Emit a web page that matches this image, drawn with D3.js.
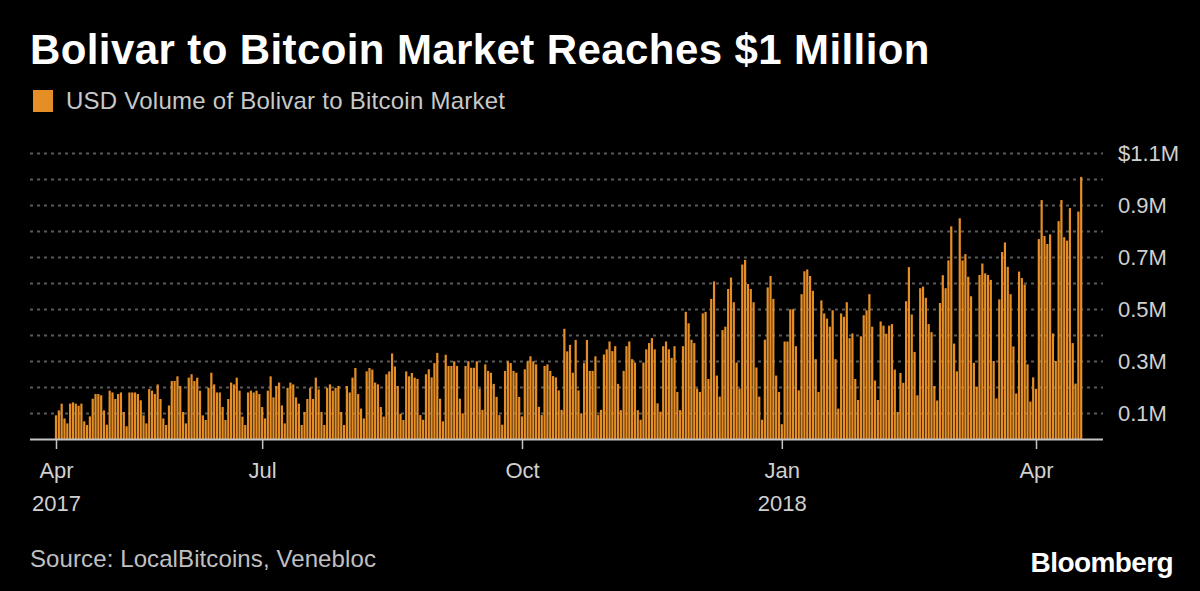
<!DOCTYPE html>
<html><head><meta charset="utf-8">
<script src="https://cdn.jsdelivr.net/npm/d3@7"></script>
<style>
html,body{margin:0;padding:0;background:#000;}
svg{display:block;font-family:"Liberation Sans",Arial,sans-serif;}
</style>
</head><body>
<svg id="chart" width="1200" height="591"></svg>
<script>
// ---- DATA ----
const startDate = new Date(2017, 3, 19);
// daily USD volume, millions
const volumes = [
0.091,0.110,0.136,0.079,0.060,0.136,0.141,0.136,0.128,0.136,0.068,0.054,0.087,0.155,0.173,0.173,0.168,0.110,0.055,0.186,0.179,0.154,0.173,0.179,0.104,0.049,0.179,0.179,0.179,
0.173,0.149,0.091,0.060,0.192,0.186,0.173,0.210,0.154,0.079,0.054,0.129,0.223,0.223,0.241,0.204,0.104,0.060,0.236,0.249,0.223,0.236,0.186,0.091,0.073,0.197,0.255,0.210,0.179,0.179,0.123,0.073,0.154,
0.217,0.210,0.236,0.186,0.086,0.054,0.179,0.186,0.179,0.186,0.173,0.123,0.079,0.186,0.241,0.160,0.204,0.217,0.129,0.060,0.197,0.217,0.210,0.160,0.136,0.054,0.104,0.154,0.197,0.154,0.236,0.191,0.104,
0.054,0.197,0.210,0.186,0.197,0.204,0.104,0.054,0.204,0.179,0.236,0.273,0.173,0.117,0.079,0.260,0.273,0.267,0.217,0.210,0.123,0.086,0.249,0.260,0.329,0.279,0.204,0.097,0.073,0.260,0.241,0.254,0.236,
0.231,0.092,0.074,0.249,0.268,0.237,0.292,0.331,0.155,0.068,0.324,0.281,0.281,0.299,0.281,0.155,0.099,0.281,0.299,0.274,0.274,0.299,0.194,0.112,0.287,0.262,0.255,0.212,0.162,0.092,0.055,0.262,0.299,
0.292,0.262,0.255,0.162,0.087,0.268,0.299,0.318,0.299,0.287,0.124,0.092,0.281,0.287,0.262,0.242,0.237,0.187,0.112,0.424,0.337,0.362,0.255,0.381,0.187,0.099,0.292,0.381,0.262,0.262,0.318,0.092,0.112,
0.325,0.345,0.375,0.338,0.357,0.212,0.111,0.262,0.357,0.375,0.307,0.294,0.111,0.074,0.294,0.345,0.369,0.388,0.345,0.137,0.105,0.357,0.375,0.345,0.312,0.357,0.181,0.111,0.357,0.489,0.445,0.382,0.369,
0.194,0.181,0.483,0.489,0.231,0.539,0.606,0.244,0.163,0.419,0.432,0.577,0.621,0.526,0.294,0.194,0.671,0.689,0.596,0.577,0.526,0.275,0.163,0.074,0.382,0.583,0.627,0.539,0.244,0.181,0.057,0.375,0.375,
0.499,0.499,0.357,0.187,0.557,0.645,0.652,0.627,0.570,0.307,0.181,0.533,0.483,0.463,0.432,0.495,0.307,0.117,0.483,0.470,0.526,0.388,0.406,0.231,0.150,0.395,0.476,0.495,0.557,0.432,0.225,0.150,0.452,
0.436,0.405,0.436,0.442,0.267,0.104,0.254,0.216,0.530,0.661,0.479,0.335,0.168,0.580,0.586,0.543,0.442,0.411,0.204,0.148,0.523,0.630,0.580,0.687,0.818,0.367,0.260,0.849,0.687,0.711,0.624,0.549,0.293,
0.200,0.631,0.675,0.637,0.631,0.612,0.300,0.156,0.537,0.719,0.756,0.662,0.557,0.356,0.175,0.644,0.619,0.594,0.287,0.144,0.237,0.193,0.769,0.919,0.781,0.750,0.787,0.406,0.300,0.838,0.919,0.776,0.763,0.888,0.369,0.213,0.875,1.008
];
const yGridValues = [0.1,0.2,0.3,0.4,0.5,0.6,0.7,0.8,0.9,1.0,1.1];
const yTickValues = [0.1,0.3,0.5,0.7,0.9,1.1];
const xTickDates = [new Date(2017,3,19), new Date(2017,6,1), new Date(2017,9,1), new Date(2018,0,1), new Date(2018,3,1)];
const xTickLines1 = ["Apr","Jul","Oct","Jan","Apr"];
const xTickLines2 = ["2017","","","2018",""];
const titleText = "Bolivar to Bitcoin Market Reaches $1 Million";
const legendText = "USD Volume of Bolivar to Bitcoin Market";
const sourceText = "Source: LocalBitcoins, Venebloc";
const logoText = "Bloomberg";

// ---- CHART ----
const svg = d3.select("#chart");
const barColor = "#e58e26";
const plotLeft = 30, plotRight = 1103, baseY = 439;

const x = d3.scaleTime()
  .domain([new Date(2017,3,19), new Date(2018,3,1)])
  .range([56, 1036]);
const y = d3.scaleLinear().domain([0, 1.1]).range([baseY, 153]);

const data = volumes.map((v, i) => ({date: d3.timeDay.offset(startDate, i), value: v}));

svg.append("rect").attr("width",1200).attr("height",591).attr("fill","#000");

// title
svg.append("text").attr("x",30).attr("y",64)
  .attr("fill","#fff").attr("font-size",42).attr("font-weight","bold")
  .attr("letter-spacing",0.4)
  .text(titleText);

// legend
svg.append("rect").attr("x",33).attr("y",90).attr("width",20).attr("height",22).attr("fill",barColor);
svg.append("text").attr("x",66).attr("y",109)
  .attr("fill","#c8c8c8").attr("font-size",24).attr("letter-spacing",0.25).text(legendText);

// gridlines
svg.append("g").selectAll("line").data(yGridValues).join("line")
  .attr("x1",plotLeft).attr("x2",plotRight)
  .attr("y1",d=>Math.round(y(d))+0.5).attr("y2",d=>Math.round(y(d))+0.5)
  .attr("stroke","#5a5a5a").attr("stroke-width",2)
  .attr("stroke-dasharray","3,4");

// bars
svg.append("g").selectAll("rect").data(data).join("rect")
  .attr("x",d=>x(d.date)-1.1)
  .attr("width",2.2)
  .attr("y",d=>y(d.value))
  .attr("height",d=>baseY - y(d.value))
  .attr("fill",barColor);

// y axis (right)
const yAxis = svg.append("g").attr("transform",`translate(1112,0)`)
  .call(d3.axisRight(y).tickValues(yTickValues).tickSize(0).tickPadding(6)
    .tickFormat(d => (d === 1.1 ? "$" : "") + d3.format(".1f")(d) + "M"));
yAxis.select(".domain").remove();
yAxis.selectAll("text").attr("fill","#d0d0d0").attr("font-size",22)
  .attr("font-family","'Liberation Sans',Arial,sans-serif");

// x axis
const xAxis = svg.append("g").attr("transform",`translate(0,${baseY})`)
  .call(d3.axisBottom(x).tickValues(xTickDates).tickSize(10).tickFormat(""));
xAxis.select(".domain").attr("d",`M${plotLeft},0.5H${plotRight}`)
  .attr("stroke","#c4c4c4").attr("stroke-width",2);
xAxis.selectAll(".tick line").attr("stroke","#c4c4c4").attr("stroke-width",1.5);
const tickG = xAxis.selectAll(".tick");
tickG.append("text").attr("y",39).attr("fill","#d0d0d0").attr("font-size",22)
  .attr("text-anchor","middle").attr("font-family","'Liberation Sans',Arial,sans-serif")
  .text((d,i)=>xTickLines1[i]);
tickG.append("text").attr("y",72).attr("fill","#d0d0d0").attr("font-size",22)
  .attr("text-anchor","middle").attr("font-family","'Liberation Sans',Arial,sans-serif")
  .text((d,i)=>xTickLines2[i]);

// source
svg.append("text").attr("x",30).attr("y",567)
  .attr("fill","#c0c0c0").attr("font-size",24).attr("letter-spacing",0.1).text(sourceText);

// logo
svg.append("text").attr("x",1173).attr("y",572).attr("text-anchor","end")
  .attr("fill","#fff").attr("font-size",28).attr("font-weight","bold")
  .attr("letter-spacing",-0.6).text(logoText);
</script>
</body></html>
